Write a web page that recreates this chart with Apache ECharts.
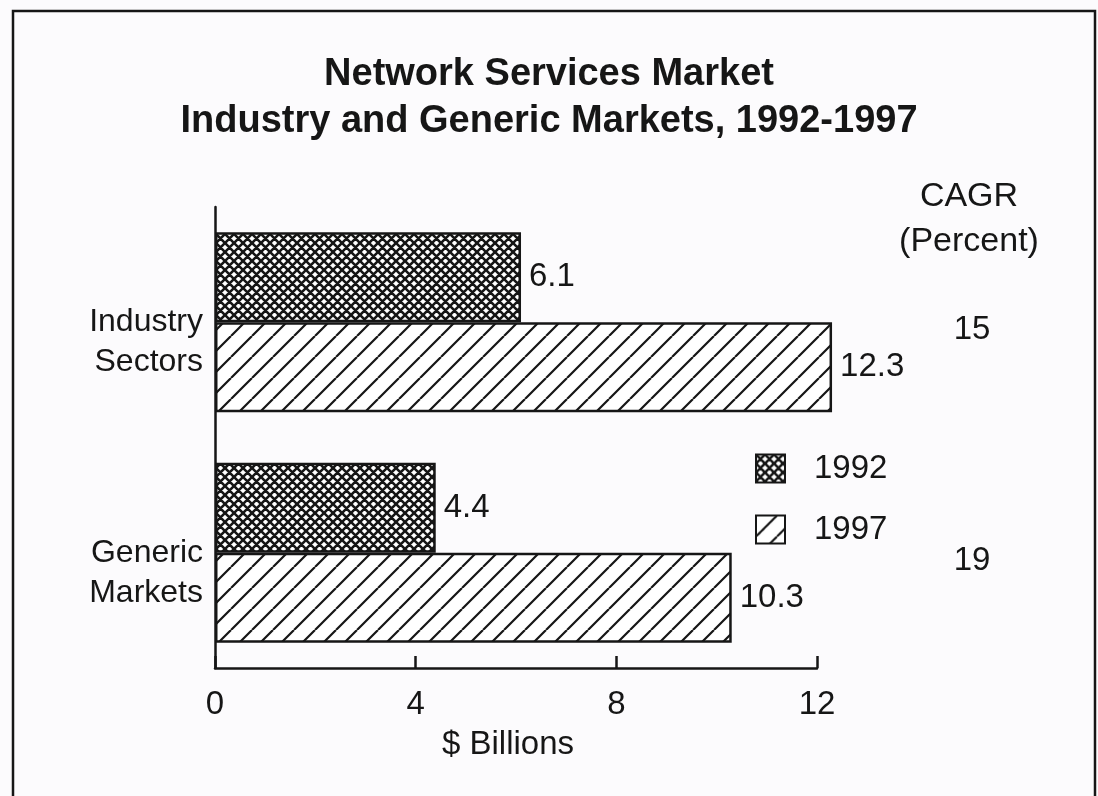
<!DOCTYPE html>
<html>
<head>
<meta charset="utf-8">
<title>Network Services Market</title>
<script src="https://cdn.jsdelivr.net/npm/echarts@6/dist/echarts.min.js"></script>
<style>
  html, body { margin: 0; padding: 0; background: #fcfbfd; }
  #chart { width: 1098px; height: 796px; }
</style>
</head>
<body>
<div id="chart"></div>
<script>
// Market size, $ billions
const categories = ['Industry\nSectors', 'Generic\nMarkets'];
const seriesNames = ['1992', '1997'];
const values1992 = [6.1, 4.4];
const values1997 = [12.3, 10.3];
// Compound annual growth rate, percent
const cagrValues = ['15', '19'];
const xTicks = [0, 4, 8, 12];

const INK = '#161616';
const FONT = '"Liberation Sans", Arial, Helvetica, sans-serif';

// Dense cross-hatch fill
function crossHatch() {
  const s = 9;
  const c = document.createElement('canvas');
  c.width = s; c.height = s;
  const g = c.getContext('2d');
  g.fillStyle = '#ffffff';
  g.fillRect(0, 0, s, s);
  g.strokeStyle = INK;
  g.lineWidth = 2.6;
  g.beginPath();
  for (let k = -1; k <= 1; k++) {
    g.moveTo(k * s, 0); g.lineTo(k * s + s, s);
    g.moveTo(k * s, s); g.lineTo(k * s + s, 0);
  }
  g.stroke();
  return c;
}

// Forward-slash diagonal fill
function diagonalHatch() {
  const s = 21;
  const c = document.createElement('canvas');
  c.width = s; c.height = s;
  const g = c.getContext('2d');
  g.fillStyle = '#ffffff';
  g.fillRect(0, 0, s, s);
  g.strokeStyle = INK;
  g.lineWidth = 2.2;
  g.beginPath();
  for (let k = -1; k <= 1; k++) {
    g.moveTo(k * s, s); g.lineTo(k * s + s, 0);
  }
  g.stroke();
  return c;
}

const fill1992 = { image: crossHatch(), repeat: 'repeat' };
const fill1997 = { image: diagonalHatch(), repeat: 'repeat' };

const chart = echarts.init(document.getElementById('chart'), null, { renderer: 'canvas' });

const gridTop = 207, gridBottom = 128, gridLeft = 215, gridRight = 281;

const valueLabel = {
  show: true,
  position: 'right',
  distance: 8,
  color: INK,
  fontFamily: FONT,
  fontSize: 33,
  formatter: p => p.value.toFixed(1)
};

const option = {
  backgroundColor: '#fcfbfd',
  animation: false,
  title: {
    text: 'Network Services Market\nIndustry and Generic Markets, 1992-1997',
    left: 'center',
    top: 46,
    textStyle: {
      color: INK,
      fontFamily: FONT,
      fontWeight: 'bold',
      fontSize: 38,
      lineHeight: 47
    }
  },
  legend: {
    orient: 'vertical',
    left: 750,
    top: 447,
    icon: 'rect',
    itemWidth: 29,
    itemHeight: 28,
    itemGap: 28,
    data: seriesNames,
    textStyle: {
      color: INK,
      fontFamily: FONT,
      fontSize: 33,
      padding: [0, 0, 0, 24]
    }
  },
  grid: { top: gridTop, bottom: gridBottom, left: gridLeft, right: gridRight },
  xAxis: {
    type: 'value',
    min: xTicks[0],
    max: xTicks[xTicks.length - 1],
    interval: 4,
    axisLine: { show: true, lineStyle: { color: INK, width: 2.5 } },
    axisTick: { show: true, inside: true, length: 12, lineStyle: { color: INK, width: 2.5 } },
    axisLabel: { color: INK, fontFamily: FONT, fontSize: 33, margin: 20 },
    splitLine: { show: false }
  },
  yAxis: {
    type: 'category',
    inverse: true,
    data: categories,
    axisLine: { show: true, lineStyle: { color: INK, width: 2.5 } },
    axisTick: { show: false },
    axisLabel: {
      color: INK,
      fontFamily: FONT,
      fontSize: 32,
      lineHeight: 40,
      align: 'right',
      margin: 12,
      // a leading empty line drops the two-line name below the band centre
      formatter: v => '\n' + v
    }
  },
  series: [
    {
      name: seriesNames[0],
      type: 'bar',
      data: values1992,
      barWidth: 90,
      barGap: '0%',
      clip: false,
      itemStyle: { color: fill1992, borderColor: INK, borderWidth: 2.5 },
      label: valueLabel
    },
    {
      name: seriesNames[1],
      type: 'bar',
      data: values1997,
      barWidth: 90,
      barGap: '0%',
      clip: false,
      itemStyle: { color: fill1997, borderColor: INK, borderWidth: 2.5 },
      label: valueLabel
    }
  ],
  graphic: []
};

chart.setOption(option);

// CAGR column, axis title and frame, placed from the axes' own pixel scale
function drawExtras() {
  const textStyle = (text, size) => ({
    text, fill: INK, font: `${size}px ${FONT}`, align: 'center', verticalAlign: 'middle'
  });
  const rows = categories.map((c, i) => chart.convertToPixel({ yAxisIndex: 0 }, i));
  const xMid = (chart.convertToPixel({ xAxisIndex: 0 }, 0) + chart.convertToPixel({ xAxisIndex: 0 }, 12)) / 2;
  const graphics = [
    { type: 'rect', shape: { x: 13, y: 11, width: 1082, height: 800 }, style: { fill: 'none', stroke: INK, lineWidth: 2.5 }, silent: true, z: 100 },
    { type: 'text', x: 969, y: 197, style: textStyle('CAGR', 34) },
    { type: 'text', x: 969, y: 242, style: textStyle('(Percent)', 34) },
    { type: 'text', x: xMid - 8, y: 745, style: textStyle('$ Billions', 33) }
  ];
  cagrValues.forEach((v, i) => {
    graphics.push({ type: 'text', x: 972, y: rows[i] + 8, style: textStyle(v, 33) });
  });
  chart.setOption({ graphic: graphics });
}
drawExtras();
</script>
</body>
</html>
